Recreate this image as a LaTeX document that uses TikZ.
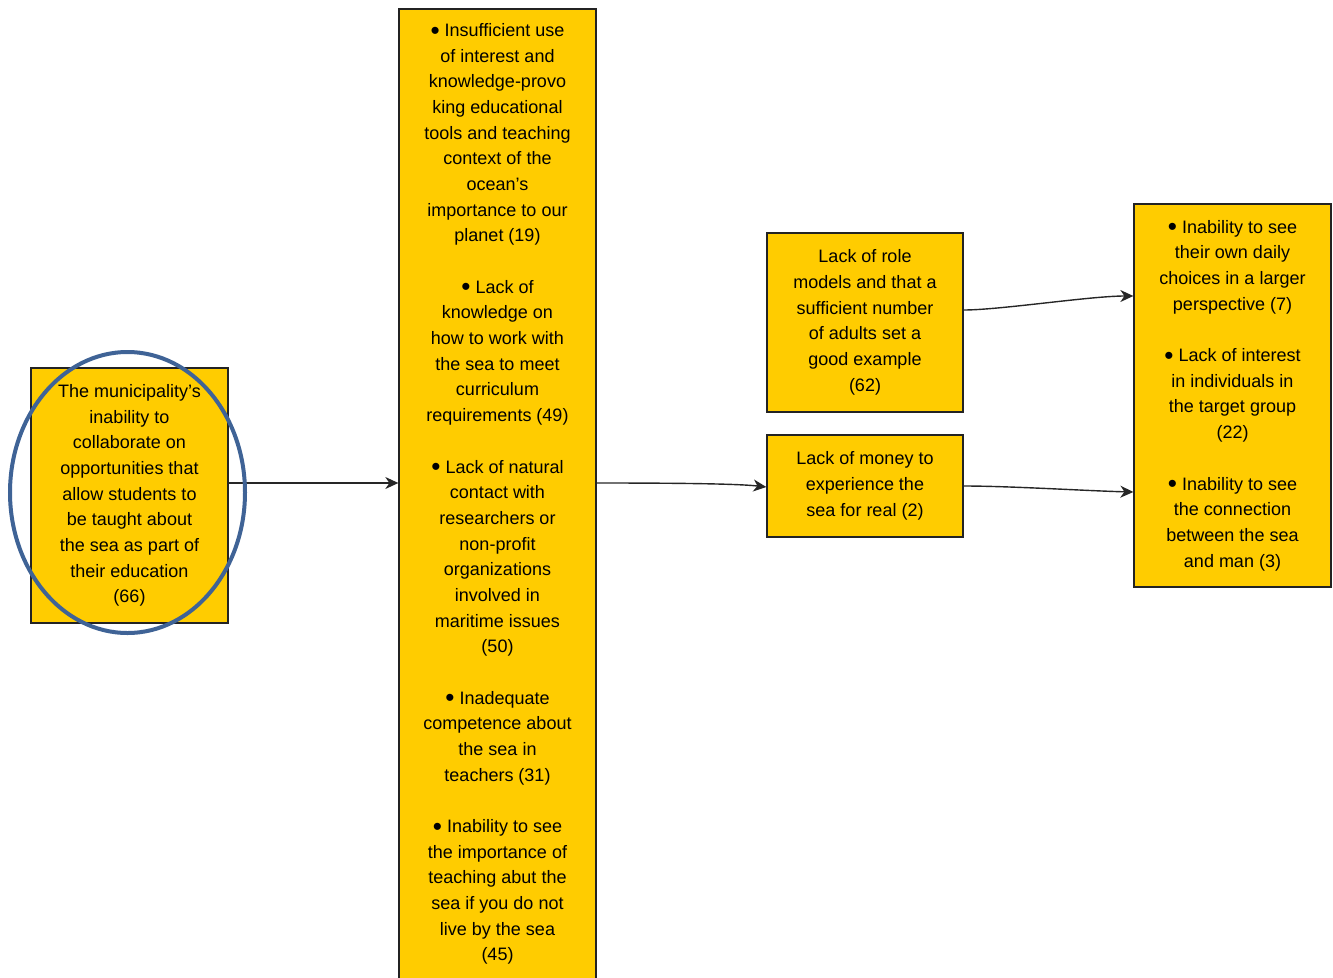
\documentclass[tikz,border=0pt]{standalone}
\usepackage{fontspec}
\setmainfont{Liberation Sans}
\usetikzlibrary{arrows.meta,calc}
\definecolor{boxfill}{RGB}{255,204,0}
\definecolor{boxline}{RGB}{35,35,35}
\definecolor{ringblue}{RGB}{63,99,150}
\newcommand{\blt}{\raisebox{-2.6pt}{\scalebox{1.45}{\textbullet}}}
\begin{document}
\begin{tikzpicture}[x=1pt,y=-1pt,
  font=\fontsize{18}{25.67}\selectfont,
  box/.style={draw=boxline, fill=boxfill, line width=1.3pt, align=center, inner sep=0pt},
  txt/.style={align=center, inner sep=0pt},
  arr/.style={draw=black!85, line width=1.4pt, -{Stealth[length=13pt,width=12pt,inset=4pt]}}]
\useasboundingbox (0,0) rectangle (1333,977);
% boxes
\node[box, minimum width=197, minimum height=255] (left) at (129.5,495.5)
 {The municipality's\\inability to\\collaborate on\\opportunities that\\allow students to\\be taught about\\the sea as part of\\their education\\(66)};
\node[box, minimum width=197, minimum height=991] (mid) at (497.5,504.5) {};
\node[txt] (midtext) at (497.5,494)
 {\blt\ Insufficient use\\of interest and\\knowledge-provo\\king educational\\tools and teaching\\context of the\\ocean's\\importance to our\\planet (19)\\[25.7pt]
  \blt\ Lack of\\knowledge on\\how to work with\\the sea to meet\\curriculum\\requirements (49)\\[25.7pt]
  \blt\ Lack of natural\\contact with\\researchers or\\non-profit\\organizations\\involved in\\maritime issues\\(50)\\[25.7pt]
  \blt\ Inadequate\\competence about\\the sea in\\teachers (31)\\[25.7pt]
  \blt\ Inability to see\\the importance of\\teaching abut the\\sea if you do not\\live by the sea\\(45)};
\node[box, minimum width=196, minimum height=179] (role) at (865,322.5)
 {Lack of role\\models and that a\\sufficient number\\of adults set a\\good example\\(62)};
\node[box, minimum width=196, minimum height=102] (money) at (865,486)
 {Lack of money to\\experience the\\sea for real (2)};
\node[box, minimum width=197, minimum height=383] (right) at (1232.5,395.5)
 {\blt\ Inability to see\\their own daily\\choices in a larger\\perspective (7)\\[25.67pt]
  \blt\ Lack of interest\\in individuals in\\the target group\\(22)\\[25.67pt]
  \blt\ Inability to see\\the connection\\between the sea\\and man (3)};
% connectors
\draw[arr] (left.east |- 0,483) -- (mid.west |- 0,483);
\draw[arr] (mid.east |- 0,483) .. controls (690,483) and (740,484) .. (money.west |- 0,487);
\draw[arr] (role.east |- 0,310) .. controls (1000,310) and (1090,296) .. (right.west |- 0,296);
\draw[arr] (money.east |- 0,486) .. controls (1010,486) and (1090,491) .. (right.west |- 0,492);
% highlight ring
\draw[ringblue, line width=4pt] (127.5,492.5) ellipse [x radius=117.5, y radius=140.5];
\end{tikzpicture}
\end{document}
